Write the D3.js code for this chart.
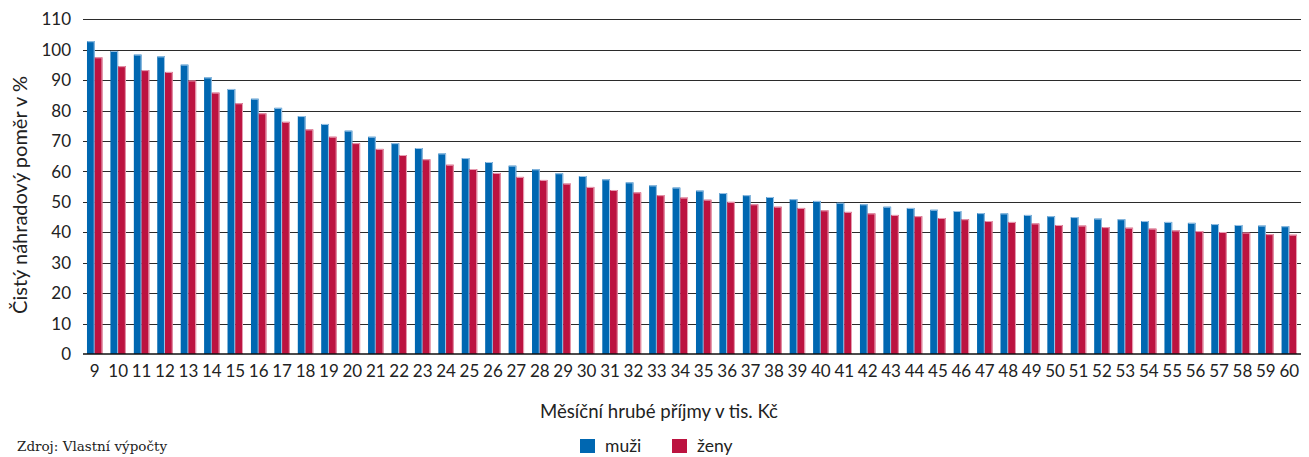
<!DOCTYPE html>
<html><head><meta charset="utf-8">
<script src="https://cdn.jsdelivr.net/npm/d3@7"></script>
<style>html,body{margin:0;padding:0;background:#fff}</style>
</head><body>
<svg id="c" width="1309" height="457"></svg>
<script>
const categories = d3.range(9, 61).map(String);
const muzi = [102.8,99.6,98.4,97.8,95.1,90.9,87.1,83.9,80.9,78.2,75.6,73.4,71.4,69.3,67.7,65.9,64.4,63.1,61.9,60.7,59.4,58.5,57.4,56.4,55.4,54.7,53.7,52.9,52.2,51.6,50.9,50.3,49.7,49.2,48.4,48.0,47.4,47.0,46.3,46.2,45.7,45.3,45.0,44.5,44.3,43.7,43.4,43.1,42.7,42.4,42.2,42.0];
const zeny = [97.5,94.6,93.3,92.7,89.9,85.9,82.4,79.1,76.3,73.8,71.4,69.3,67.4,65.4,64.0,62.2,60.8,59.5,58.2,57.2,56.0,54.9,53.9,53.1,52.2,51.4,50.7,50.0,49.2,48.4,48.0,47.2,46.7,46.2,45.7,45.3,44.7,44.3,43.7,43.4,42.9,42.4,42.2,41.7,41.5,41.2,40.6,40.4,40.1,39.9,39.4,39.2];
const yTicks = [0,10,20,30,40,50,60,70,80,90,100,110];
const seriesNames = ["muži","ženy"];
const colors = ["#0067B1","#BC1340"];
const edge = ["#9cc4e6","#e8a0b4"];

const svg = d3.select("#c");
const L = 83, R = 1301, T = 19.3, B = 354;
const font = "Lato, 'Open Sans', sans-serif";

const x = d3.scaleBand().domain(categories).range([L, R]).paddingInner(0.34).paddingOuter(0.17);
const xs = d3.scaleBand().domain(seriesNames).range([0, x.bandwidth()]);
const y = d3.scaleLinear().domain([0, 110]).range([B, T]);

// gridlines
svg.append("g").selectAll("line").data(yTicks.filter(d => d > 0)).join("line")
  .attr("x1", L).attr("x2", R).attr("y1", d => Math.round(y(d)) + 0.5).attr("y2", d => Math.round(y(d)) + 0.5)
  .attr("stroke", "#2b2b2b").attr("stroke-width", 1.2);

// bars
const data = categories.map((c, i) => ({c, vals: [muzi[i], zeny[i]]}));
const g = svg.append("g");
data.forEach(d => {
  d.vals.forEach((v, k) => {
    const bx = x(d.c) + xs(seriesNames[k]);
    const bw = xs.bandwidth();
    const by = y(v), bh = y(0) - y(v);
    g.append("rect").attr("x", bx).attr("y", by).attr("width", bw).attr("height", bh)
      .attr("fill", colors[k]);
    g.append("rect").attr("x", bx + 0.5).attr("y", by + 0.5).attr("width", bw - 1).attr("height", bh - 1)
      .attr("fill", "none").attr("stroke", edge[k]).attr("stroke-width", 1)
      .attr("stroke-dasharray", `${bw - 1 + bh - 1},${bw - 1 + bh - 1}`);
  });
});

// baseline
svg.append("line").attr("x1", L).attr("x2", R).attr("y1", y(0)).attr("y2", y(0))
  .attr("stroke", "#111").attr("stroke-width", 1.6);

// y tick labels
svg.append("g").selectAll("text").data(yTicks).join("text")
  .attr("x", 71).attr("y", d => y(d)).attr("dy", "0.36em").attr("text-anchor", "end")
  .attr("font-family", font).attr("font-size", 17).attr("fill", "#222").text(d => d);

// x tick labels
svg.append("g").selectAll("text").data(categories).join("text")
  .attr("x", d => x(d) + x.bandwidth() / 2).attr("y", 377).attr("text-anchor", "middle")
  .attr("font-family", font).attr("font-size", 17).attr("fill", "#222").text(d => d);

// axis titles
svg.append("text").attr("x", 659).attr("y", 418).attr("text-anchor", "middle")
  .attr("font-family", font).attr("font-size", 18.6).attr("fill", "#222").text("Měsíční hrubé příjmy v tis. Kč");
svg.append("text").attr("transform", "translate(27,195) rotate(-90)").attr("text-anchor", "middle")
  .attr("font-family", font).attr("font-size", 20).attr("fill", "#222").text("Čistý náhradový poměr v %");

// legend
const legX = [580, 672];
seriesNames.forEach((s, k) => {
  svg.append("rect").attr("x", legX[k]).attr("y", 439).attr("width", 15).attr("height", 14).attr("fill", colors[k]);
  svg.append("text").attr("x", legX[k] + 25).attr("y", 452).attr("font-family", font).attr("font-size", 17.5)
    .attr("fill", "#222").text(s);
});

// source
svg.append("text").attr("x", 17).attr("y", 451).attr("font-family", "'DejaVu Serif', 'Liberation Serif', serif")
  .attr("font-size", 13.5).attr("fill", "#222").text("Zdroj: Vlastní výpočty");
</script>
</body></html>
